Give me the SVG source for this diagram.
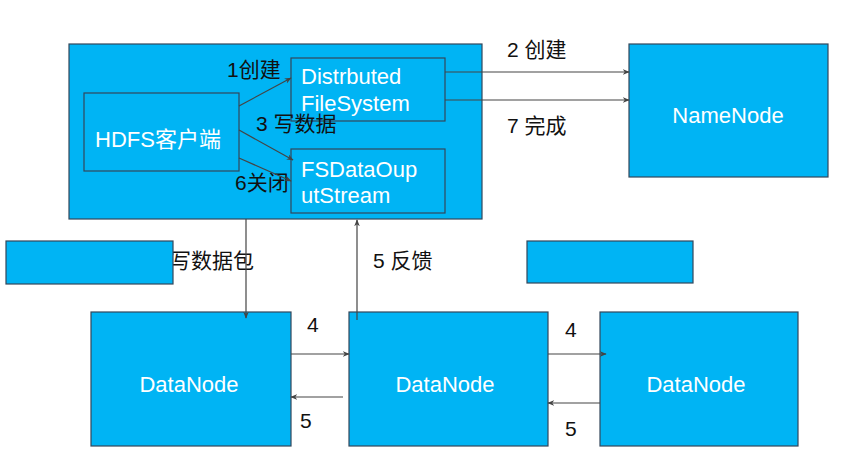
<svg xmlns="http://www.w3.org/2000/svg" width="858" height="464" viewBox="0 0 858 464">
<style>
.box{fill:#00B4F4;stroke:#33475a;stroke-width:1.2}
.wt{fill:#ffffff;font-family:"Liberation Sans","Noto Sans CJK SC",sans-serif;font-size:22px}
.lb{fill:#111111;font-family:"Liberation Sans","Noto Sans CJK SC",sans-serif;font-size:21px}
.ln{stroke:#444444;stroke-width:1.2;fill:none;marker-end:url(#ah)}
</style>
<defs>
<marker id="ah" viewBox="0 0 10 10" refX="9" refY="5" markerWidth="7" markerHeight="7" orient="auto" markerUnits="userSpaceOnUse">
<path d="M0,1 L10,5 L0,9 L3,5 Z" fill="#444444"/>
</marker>
</defs>
<rect width="858" height="464" fill="#ffffff"/>
<g id="client">
<rect class="box" x="69" y="44" width="413" height="175"/>
</g>
<g id="labels-client">
<text class="lb" x="227" y="77">1创建</text>
<text class="lb" x="235" y="190">6关闭</text>
</g>
<g id="hdfs-client">
<rect class="box" x="84" y="93" width="155" height="78"/>
<text class="wt" x="95" y="147">HDFS客户端</text>
</g>
<g id="dfs">
<rect class="box" x="291" y="58" width="154" height="63"/>
<text class="wt" x="301" y="84">Distrbuted</text>
<text class="wt" x="301" y="111">FileSystem</text>
</g>
<g id="fsdos">
<rect class="box" x="291" y="149" width="154" height="64"/>
<text class="wt" x="301" y="177">FSDataOup</text>
<text class="wt" x="301" y="203">utStream</text>
</g>
<text class="lb" x="256" y="131">3 写数据</text>
<g id="namenode">
<rect class="box" x="629" y="44" width="199" height="133"/>
<text class="wt" x="728" y="123" text-anchor="middle">NameNode</text>
</g>
<text class="lb" x="170" y="268">写数据包</text>
<g id="blank-left">
<rect class="box" x="6" y="241" width="167" height="43"/>
</g>
<g id="blank-right">
<rect class="box" x="527" y="241" width="166" height="42"/>
</g>
<g id="dn1">
<rect class="box" x="91" y="312" width="200" height="134"/>
<text class="wt" x="189" y="392" text-anchor="middle">DataNode</text>
</g>
<g id="dn2">
<rect class="box" x="349" y="312" width="199" height="134"/>
<text class="wt" x="445" y="392" text-anchor="middle">DataNode</text>
</g>
<g id="dn3">
<rect class="box" x="600" y="312" width="198" height="134"/>
<text class="wt" x="696" y="392" text-anchor="middle">DataNode</text>
</g>
<g id="connectors">
<line class="ln" x1="239" y1="106" x2="291" y2="78"/>
<line class="ln" x1="239" y1="130" x2="293" y2="160"/>
<line class="ln" x1="239" y1="158" x2="291" y2="181"/>
<line class="ln" x1="445" y1="72" x2="629" y2="72"/>
<line class="ln" x1="445" y1="100" x2="629" y2="100"/>
<line class="ln" x1="246" y1="219" x2="246" y2="318"/>
<line class="ln" x1="357" y1="320" x2="357" y2="220"/>
<line class="ln" x1="291" y1="354" x2="349" y2="354"/>
<line class="ln" x1="343" y1="397" x2="291" y2="397"/>
<line class="ln" x1="548" y1="354" x2="606" y2="354"/>
<line class="ln" x1="600" y1="403" x2="548" y2="403"/>
</g>
<g id="connector-labels">
<text class="lb" x="507" y="57">2 创建</text>
<text class="lb" x="507" y="133">7 完成</text>
<text class="lb" x="373" y="268">5 反馈</text>
<text class="lb" x="307" y="332">4</text>
<text class="lb" x="300" y="428">5</text>
<text class="lb" x="565" y="337">4</text>
<text class="lb" x="565" y="436">5</text>
</g>
</svg>
